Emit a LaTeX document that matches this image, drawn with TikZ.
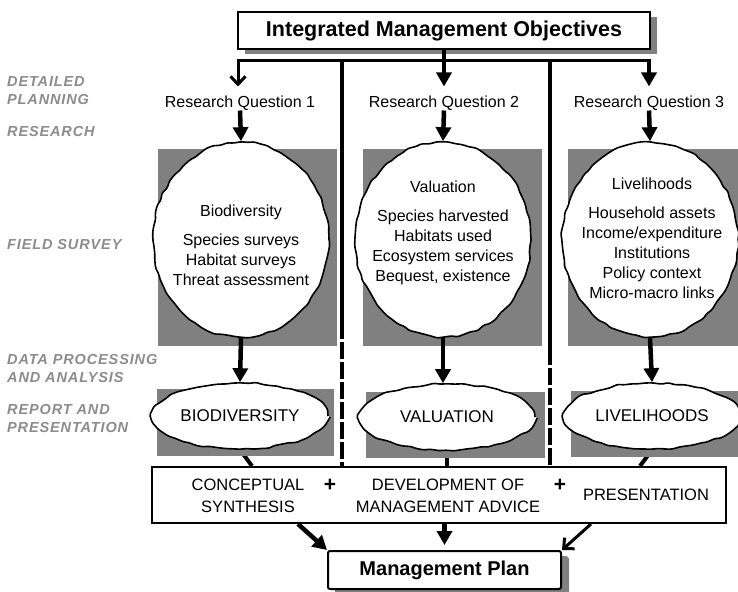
\documentclass[tikz,border=0pt]{standalone}
\usepackage{fontspec}
\setmainfont{Liberation Sans}
\usetikzlibrary{arrows.meta,shapes.geometric,shadows,backgrounds,decorations.pathmorphing}

\begin{document}
\pgfmathsetseed{7}
\begin{tikzpicture}[x=1pt, y=-1pt,
  stagelabel/.style={anchor=west, align=left, inner sep=0pt, text=black!45, font=\fontsize{14.5}{18}\selectfont\bfseries\itshape\addfontfeatures{LetterSpace=6}},
  question/.style={inner sep=0pt, font=\fontsize{16}{20}\selectfont},
  topictext/.style={align=center, inner sep=0pt, font=\fontsize{16}{20}\selectfont},
  boxtext/.style={align=center, inner sep=0pt, font=\fontsize{16.5}{22}\selectfont},
  wobbly/.style={ellipse, draw, fill=white, line width=1.6pt, inner sep=0pt, decorate, decoration={random steps, segment length=7pt, amplitude=1.1pt}, rounded corners=1.5pt},
  bigtopic/.style={wobbly, minimum width=176pt, minimum height=195pt},
  smalltopic/.style={wobbly, minimum width=176pt, minimum height=66pt, font=\fontsize{17}{20}\selectfont},
  panel/.style={fill=black!50},
  headbox/.style={draw, fill=white, line width=2.5pt, inner sep=0pt, font=\fontsize{21.5}{26}\selectfont\bfseries, drop shadow={shadow xshift=7pt, shadow yshift=-5pt, fill=black!50, opacity=1}},
  fat/.style={line width=4.5pt, -{Triangle[length=14pt,width=15pt]}},
  barb/.style={line width=3pt, -{Straight Barb[length=8pt,width=15pt]}},
  divider/.style={line width=4pt}]
\useasboundingbox (0,0) rectangle (738,591);

% stages
\node[stagelabel] (lblPlan) at (7,91) {DETAILED\\PLANNING};
\node[stagelabel] (lblRes) at (7,132) {RESEARCH};
\node[stagelabel] (lblField) at (7,245) {FIELD SURVEY};
\node[stagelabel] (lblData) at (7,369) {DATA PROCESSING\\AND ANALYSIS};
\node[stagelabel] (lblReport) at (7,419) {REPORT AND\\PRESENTATION};

% objectives and questions
\node[headbox, minimum width=412pt, minimum height=37pt] (goal) at (444,30.5) {Integrated Management Objectives};
\node[question] (rq1) at (240,103) {Research Question 1};
\node[question] (rq2) at (444,103) {Research Question 2};
\node[question] (rq3) at (649,103) {Research Question 3};
\coordinate (splitL) at (238,61);
\coordinate (splitR) at (649,61);
\draw[line width=3pt, line cap=rect] (splitL) -- (splitR);
\draw[barb, shorten >=9pt] (splitL) -- (splitL |- rq1.north);
\draw[fat, shorten >=9pt] (goal.south) -- (rq2.north);
\draw[fat, shorten >=9pt] (splitR) -- (rq3.north);

% field survey
\node[bigtopic] (bioC) at (241,239.5) {};
\node[bigtopic] (valC) at (443,239.5) {};
\node[bigtopic] (livC) at (650,239.5) {};
\node[topictext] (bioT) at (241,245) {Biodiversity\\[9pt]Species surveys\\Habitat surveys\\Threat assessment};
\node[topictext] (valT) at (443,232.5) {Valuation\\[9pt]Species harvested\\Habitats used\\Ecosystem services\\Bequest, existence};
\node[topictext] (livT) at (652,238) {Livelihoods\\[9pt]Household assets\\Income/expenditure\\Institutions\\Policy context\\Micro-macro links};
\draw[fat] (rq1.south) -- (bioC.north);
\draw[fat] (rq2.south) -- (valC.north);
\draw[fat] (rq3.south) -- (livC.north);

% reports
\node[smalltopic] (bioE) at (240,416) {BIODIVERSITY};
\node[smalltopic] (valE) at (447,417) {VALUATION};
\node[smalltopic] (livE) at (652,416) {LIVELIHOODS};
\draw[fat] (bioC.south) -- (bioE.north);
\draw[fat] (valC.south) -- (valC.south |- valE.north);
\draw[fat] (livC.south) -- (livE.north);

% synthesis
\node[draw, fill=white, line width=2pt, minimum width=574pt, minimum height=56pt, inner sep=0pt] (synth) at (439,495) {};
\node[boxtext] (concept) at (248,496) {CONCEPTUAL\\SYNTHESIS};
\node[boxtext, font=\fontsize{21}{22}\selectfont\bfseries] (plusA) at (330,485) {+};
\node[boxtext] (advice) at (448,496) {DEVELOPMENT OF\\MANAGEMENT ADVICE};
\node[boxtext, font=\fontsize{21}{22}\selectfont\bfseries] (plusB) at (560,485) {+};
\node[boxtext] (present) at (646,495) {PRESENTATION};

% dividers
\coordinate (divA) at (342,61);
\coordinate (divAd) at (342,322);
\coordinate (divB) at (550,61);
\coordinate (divBd) at (550,348);
\draw[divider] (divA) -- (divAd);
\draw[divider, dash pattern=on 17pt off 3pt] (divAd) -- (divAd |- synth.north);
\draw[divider] (divB) -- (divBd);
\draw[divider, dash pattern=on 17pt off 3pt] (divBd) -- (divBd |- synth.north);

% plan
\node[headbox, line width=2pt, rounded corners=2pt, minimum width=233pt, minimum height=38pt, font=\fontsize{20}{24}\selectfont\bfseries, drop shadow={shadow xshift=8pt, shadow yshift=-6pt, fill=black!50, opacity=1}] (plan) at (444.5,570) {Management Plan};
\draw[fat] ([xshift=-141pt]synth.south) -- (plan.north west);
\draw[fat, shorten >=5pt] (plan.north |- synth.south) -- (plan.north);
\draw[barb] ([xshift=152pt]synth.south) -- (plan.north east);

\begin{pgfonlayer}{background}
\draw[divider] (bioE.south) -- ([xshift=-187pt]synth.north);
\draw[divider] (valE.south) -- (valE.south |- synth.north);
\draw[divider] (livE.south) -- ([xshift=201pt]synth.north);
\fill[panel] (158,149) rectangle (337,346);
\fill[panel] (363,149) rectangle (542,346);
\fill[panel] (568,149) rectangle (738,346);
\fill[panel] (157,389) rectangle (334,456);
\fill[panel] (366,392) rectangle (545,458);
\fill[panel] (571,391) rectangle (738,457);
\end{pgfonlayer}
\end{tikzpicture}
\end{document}
